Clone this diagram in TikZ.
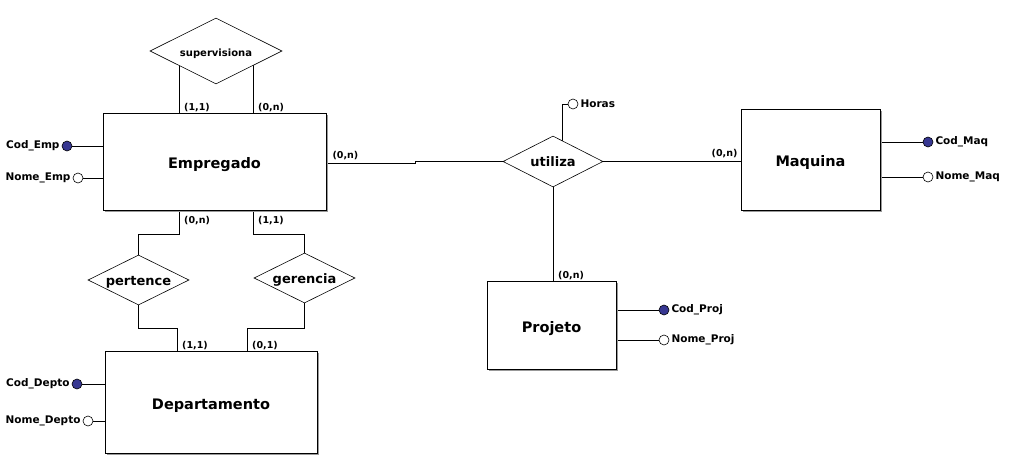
\documentclass[tikz,border=0pt]{standalone}
\usepackage{fontspec}
\setmainfont{DejaVu Sans}
\usetikzlibrary{shapes.geometric,backgrounds,shadows}
\definecolor{keyblue}{RGB}{55,55,145}
\tikzset{
  entity/.style={draw, fill=white, line width=0.9pt, inner sep=0pt,
    text height=14pt, text depth=0pt,
    drop shadow={shadow xshift=1.5pt, shadow yshift=-1.5pt, fill=black!40, opacity=1},
    font=\fontsize{14.5}{16}\selectfont\bfseries},
  relation/.style={diamond, aspect=2, draw, fill=white, inner sep=0pt, line width=0.6pt,
    text height=10pt, text depth=0pt,
    font=\fontsize{13}{15}\selectfont\bfseries},
  keyattr/.style={circle, draw, fill=keyblue, minimum size=10pt, inner sep=0pt, line width=0.6pt},
  attr/.style={circle, draw, fill=white, minimum size=10pt, inner sep=0pt, line width=0.6pt},
  attrtext/.style={font=\fontsize{10.5}{12}\selectfont\bfseries, inner sep=2pt},
  card/.style={font=\fontsize{9.5}{11}\selectfont\bfseries, inner sep=1pt},
  conn/.style={line width=0.75pt}
}
\begin{document}
\begin{tikzpicture}[x=1pt,y=-1pt]
\useasboundingbox (0,0) rectangle (1012,461);

% entidades
\node[entity, minimum width=223pt, minimum height=97pt] (emp) at (214.5,161.5) {Empregado};
\node[entity, minimum width=212pt, minimum height=102pt] (dep) at (211,402) {Departamento};
\node[entity, minimum width=129pt, minimum height=88pt] (proj) at (551.5,325) {Projeto};
\node[entity, minimum width=139pt, minimum height=101pt] (maq) at (810.5,159.5) {Maquina};

% relacionamentos
\node[relation, minimum width=132pt, minimum height=66pt, font=\fontsize{10}{12}\selectfont\bfseries] (sup) at (216,51) {supervisiona};
\node[relation, minimum width=101pt, minimum height=50pt] (per) at (138.5,280) {pertence};
\node[relation, minimum width=101pt, minimum height=50pt] (ger) at (304.5,278) {gerencia};
\node[relation, minimum width=100pt, minimum height=51pt] (uti) at (553,161.5) {utiliza};

% atributos
\node[keyattr, label={[attrtext]left:Cod\_Emp}] (cemp) at (67,146) {};
\node[attr, label={[attrtext]left:Nome\_Emp}] (nemp) at (78,178) {};
\node[keyattr, label={[attrtext]left:Cod\_Depto}] (cdep) at (77,384) {};
\node[attr, label={[attrtext]left:Nome\_Depto}] (ndep) at (88,421) {};
\node[keyattr, label={[attrtext]right:Cod\_Proj}] (cproj) at (664,310) {};
\node[attr, label={[attrtext]right:Nome\_Proj}] (nproj) at (664,340) {};
\node[keyattr, label={[attrtext]right:Cod\_Maq}] (cmaq) at (928,142) {};
\node[attr, label={[attrtext]right:Nome\_Maq}] (nmaq) at (928,177) {};
\node[attr, label={[attrtext]right:Horas}] (horas) at (573,104) {};

\coordinate (st1) at ([xshift=-35.5pt]emp.north);
\coordinate (st2) at ([xshift=38.5pt]emp.north);
\coordinate (sb1) at ([xshift=-35.5pt]emp.south);
\coordinate (sb2) at ([xshift=38.5pt]emp.south);
\coordinate (dt1) at ([xshift=-34pt]dep.north);
\coordinate (dt2) at ([xshift=36pt]dep.north);

\begin{pgfonlayer}{background}
\draw[conn] (st1) -- (st1 |- sup.center);
\draw[conn] (st2) -- (st2 |- sup.center);
\draw[conn] (sb1) -- ++(0,24) -| (per.center);
\draw[conn] (sb2) -- ++(0,24) -| (ger.center);
\draw[conn] (dt1) -- ++(0,-22) -| (per.center);
\draw[conn] (dt2) -- ++(0,-22) -| (ger.center);
\draw[conn] ([yshift=-1.5pt]emp.east) -- ++(89,0) |- (uti.center);
\draw[conn] (uti.center) -- (uti.center -| maq.west);
\draw[conn] (uti.center) -- (uti.center |- proj.north);
\draw[conn] ([xshift=9pt]uti.center) |- (horas.west);
\draw[conn] (cemp) -- (cemp -| emp.west);
\draw[conn] (nemp) -- (nemp -| emp.west);
\draw[conn] (cdep) -- (cdep -| dep.west);
\draw[conn] (ndep) -- (ndep -| dep.west);
\draw[conn] (cproj) -- (cproj -| proj.east);
\draw[conn] (nproj) -- (nproj -| proj.east);
\draw[conn] (cmaq) -- (cmaq -| maq.east);
\draw[conn] (nmaq) -- (nmaq -| maq.east);
\end{pgfonlayer}

% cardinalidades
\node[card, anchor=south west] (c1) at ([xshift=4pt]st1) {(1,1)};
\node[card, anchor=south west] (c2) at ([xshift=4pt]st2) {(0,n)};
\node[card, anchor=north west] (c3) at ([xshift=4pt, yshift=-5pt]sb1) {(0,n)};
\node[card, anchor=north west] (c4) at ([xshift=4pt, yshift=-5pt]sb2) {(1,1)};
\node[card, anchor=south west] (c5) at ([xshift=4pt]dt1) {(1,1)};
\node[card, anchor=south west] (c6) at ([xshift=4pt]dt2) {(0,1)};
\node[card, anchor=south west] (c7) at ([xshift=5pt]emp.east) {(0,n)};
\node[card, anchor=south east] (c8) at ([xshift=-2pt]maq.west) {(0,n)};
\node[card, anchor=south west] (c9) at ([xshift=4pt]uti.center |- proj.north) {(0,n)};
\end{tikzpicture}
\end{document}
